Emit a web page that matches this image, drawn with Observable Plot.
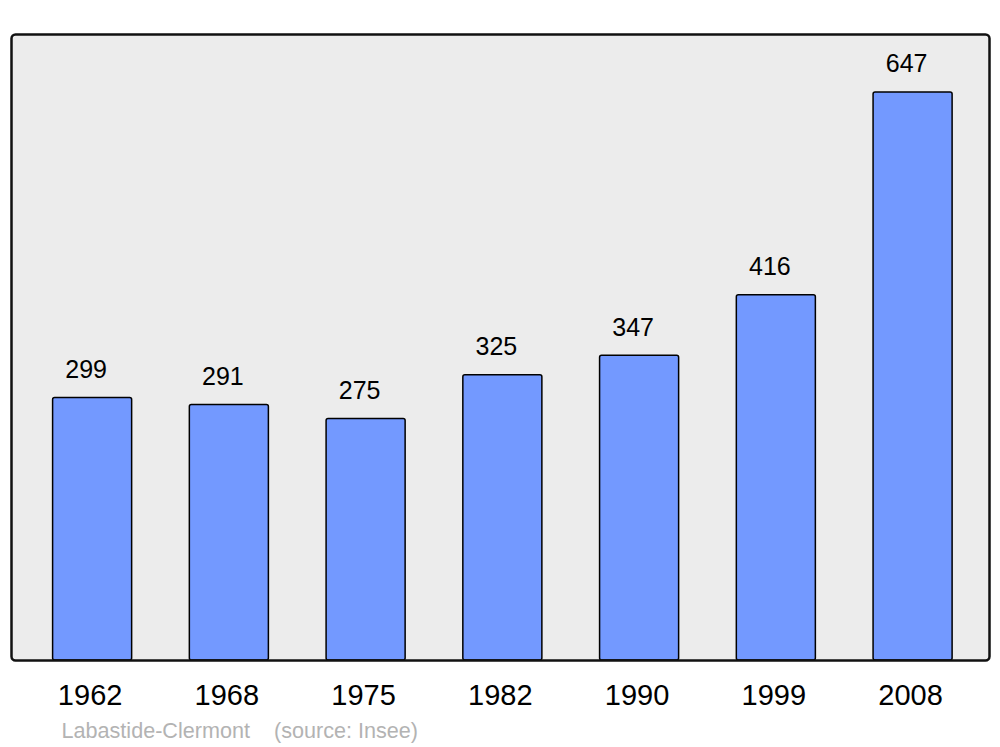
<!DOCTYPE html>
<html>
<head>
<meta charset="utf-8">
<script src="https://cdn.jsdelivr.net/npm/d3@7"></script>
<script src="https://cdn.jsdelivr.net/npm/@observablehq/plot@0.6"></script>
<style>
html, body { margin: 0; padding: 0; background: #fff; }
</style>
</head>
<body>
<div id="chart"></div>
<script>
const years = ["1962", "1968", "1975", "1982", "1990", "1999", "2008"];
const population = [299, 291, 275, 325, 347, 416, 647];
const captionText = "Labastide-Clermont    (source: Insee)";

const data = years.map((y, i) => ({year: y, pop: population[i]}));

const chart = Plot.plot({
  width: 1000,
  height: 747,
  marginLeft: 11,
  marginRight: 11,
  marginTop: 34,
  marginBottom: 87,
  style: {fontFamily: "'Liberation Sans', Arial, sans-serif", background: "#fff"},
  x: {domain: years, paddingInner: 0.422, paddingOuter: 0.287, align: 0.53, round: false, label: null},
  y: {domain: [0, 713], axis: null},
  marks: [
    Plot.frame({fill: "#ececec", stroke: "none", rx: 4}),
    Plot.barY(data, {x: "year", y: "pop", fill: "#7399ff", stroke: "#000", strokeWidth: 1.5, rx: 2}),
    Plot.text(data, {x: "year", y: "pop", text: d => String(d.pop), dy: -28, dx: -6.5, fontSize: 25, fill: "#000"}),
    Plot.frame({fill: "none", stroke: "#111", strokeWidth: 2.5, rx: 4}),
    Plot.axisX({tickSize: 0, tickPadding: 24, dx: -2.5, fontSize: 29, color: "#000", label: null}),
    Plot.text([captionText], {frameAnchor: "bottom-left", dx: 50, dy: 77, textAnchor: "start", fontSize: 21.6, fill: "#b3b3b3"})
  ]
});
document.getElementById("chart").appendChild(chart);
</script>
</body>
</html>
